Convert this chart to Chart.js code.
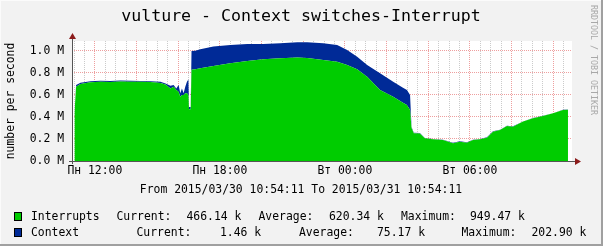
<!DOCTYPE html>
<html>
<head>
<meta charset="utf-8">
<script src="https://cdn.jsdelivr.net/npm/chart.js@4/dist/chart.umd.min.js"></script>
<style>
  html, body { margin: 0; padding: 0; background: #f2f2f2; }
  canvas { display: block; }
</style>
</head>
<body>
<canvas id="chart" width="603" height="246"></canvas>
<script>
// time axis in hours since Monday 00:00 (window 10:54:11 .. next day 10:54:11)
const windowStart = 10 + 54 / 60 + 11 / 3600;
const windowEnd = windowStart + 24;

const hours = [
  11.02, 11.10, 11.31, 11.79, 12.27, 12.75, 13.23, 13.71, 14.19, 14.67,
  15.15, 15.39, 15.63, 15.78, 15.91, 16.02, 16.10, 16.18, 16.26, 16.34,
  16.42, 16.49, 16.52, 16.60, 16.64, 16.82, 17.06, 17.69, 18.50, 19.32,
  20.08, 20.90, 21.72, 22.19, 22.96, 23.63, 24.11, 24.59, 25.07, 25.69,
  26.32, 26.79, 26.98, 27.13, 27.20, 27.31, 27.60, 27.84, 28.22, 28.71,
  29.19, 29.52, 29.86, 30.15, 30.49, 30.82, 31.11, 31.45, 31.78, 32.07,
  32.55, 33.03, 33.51, 33.99, 34.47, 34.71
];
// millions per second
const interrupts = [
  0.436, 0.675, 0.700, 0.715, 0.720, 0.718, 0.722, 0.720, 0.720, 0.718,
  0.710, 0.695, 0.660, 0.675, 0.645, 0.630, 0.585, 0.600, 0.600, 0.615,
  0.615, 0.600, 0.470, 0.470, 0.830, 0.835, 0.843, 0.864, 0.888, 0.909,
  0.925, 0.934, 0.940, 0.937, 0.918, 0.903, 0.873, 0.834, 0.767, 0.645,
  0.585, 0.530, 0.509, 0.464, 0.300, 0.252, 0.250, 0.206, 0.197, 0.190,
  0.161, 0.176, 0.167, 0.190, 0.197, 0.212, 0.267, 0.282, 0.318, 0.312,
  0.358, 0.388, 0.409, 0.433, 0.464, 0.466
];
const context = [
  0.004, 0.015, 0.012, 0.010, 0.010, 0.010, 0.010, 0.010, 0.008, 0.008,
  0.010, 0.010, 0.025, 0.015, 0.015, 0.060, 0.030, 0.060, 0.015, 0.060,
  0.105, 0.140, 0.020, 0.020, 0.170, 0.168, 0.172, 0.176, 0.167, 0.155,
  0.139, 0.136, 0.139, 0.142, 0.152, 0.152, 0.136, 0.114, 0.106, 0.152,
  0.136, 0.135, 0.136, 0.136, 0.010, 0.004, 0.005, 0.004, 0.003, 0.003,
  0.004, 0.004, 0.003, 0.003, 0.003, 0.003, 0.003, 0.003, 0.003, 0.003,
  0.002, 0.002, 0.002, 0.002, 0.002, 0.0015
];

const tickHours = [12, 18, 24, 30];
const tickLabels = ['Пн 12:00', 'Пн 18:00', 'Вт 00:00', 'Вт 06:00'];

const seriesNames = ['Interrupts', 'Context'];
const seriesColors = ['#00cc00', '#002a97'];
const currentVals = ['466.14 k', '1.46 k'];
const averageVals = ['620.34 k', '75.17 k'];
const maximumVals = ['949.47 k', '202.90 k'];

const titleText = 'vulture - Context switches-Interrupt';
const rangeText = 'From 2015/03/30 10:54:11 To 2015/03/31 10:54:11';
const mono = "'DejaVu Sans Mono', 'Liberation Mono', monospace";

const gridGray = 'rgba(140,140,140,0.45)';
const gridRed = 'rgba(224,80,80,0.55)';

// frame, plot background, axes with arrows, title and legend
const rrdDecor = {
  id: 'rrdDecor',
  beforeDraw(chart) {
    const { ctx, chartArea: a, width, height } = chart;
    ctx.save();
    ctx.fillStyle = '#f2f2f2';
    ctx.fillRect(0, 0, width, height);
    ctx.fillStyle = '#ffffff';
    ctx.fillRect(a.left, a.top, a.right - a.left, a.bottom - a.top);
    ctx.restore();
  },
  afterDatasetsDraw(chart) {
    const { ctx, chartArea: a } = chart;
    ctx.save();
    // axes
    ctx.strokeStyle = '#555';
    ctx.lineWidth = 1;
    ctx.beginPath();
    ctx.moveTo(a.left - 3, a.bottom + 0.5);
    ctx.lineTo(a.right + 4, a.bottom + 0.5);
    ctx.moveTo(a.left + 0.5, a.bottom + 3);
    ctx.lineTo(a.left + 0.5, a.top - 3);
    ctx.stroke();
    // arrows
    ctx.fillStyle = '#8c1c1c';
    ctx.beginPath();
    ctx.moveTo(a.right + 9, a.bottom + 0.5);
    ctx.lineTo(a.right + 3, a.bottom - 3);
    ctx.lineTo(a.right + 3, a.bottom + 4);
    ctx.closePath();
    ctx.fill();
    ctx.beginPath();
    ctx.moveTo(a.left + 0.5, a.top - 8);
    ctx.lineTo(a.left - 3, a.top - 2);
    ctx.lineTo(a.left + 4, a.top - 2);
    ctx.closePath();
    ctx.fill();
    ctx.restore();
  },
  afterDraw(chart) {
    const { ctx, width, height } = chart;
    ctx.save();
    // 3d frame
    ctx.fillStyle = '#fbfbfb';
    ctx.fillRect(0, 0, width, 1);
    ctx.fillRect(0, 0, 1, height);
    ctx.fillStyle = '#a0a0a0';
    ctx.fillRect(width - 2, 0, 2, height);
    ctx.fillRect(0, height - 2, width, 2);

    ctx.fillStyle = '#000';
    ctx.textBaseline = 'middle';
    ctx.textAlign = 'center';
    ctx.font = '16.6px ' + mono;
    ctx.fillText(titleText, 301, 17);

    ctx.font = '11.4px ' + mono;
    ctx.fillText(rangeText, 301, 190);

    // watermark
    ctx.save();
    ctx.translate(593, 5);
    ctx.rotate(Math.PI / 2);
    ctx.textAlign = 'left';
    ctx.fillStyle = '#a8a8a8';
    ctx.font = '8.3px ' + mono;
    ctx.fillText('RRDTOOL / TOBI OETIKER', 0, 0);
    ctx.restore();

    // legend
    ctx.textAlign = 'left';
    ctx.font = '11.4px ' + mono;
    const rows = [217, 233];
    const cols = [
      [31, 116.5, 186.5, 258.5, 329, 401, 470],
      [31, 136.5, 220, 299, 377, 461.5, 531.5]
    ];
    for (let i = 0; i < 2; i++) {
      const y = rows[i];
      ctx.fillStyle = seriesColors[i];
      ctx.fillRect(14, y - 5, 8, 9);
      ctx.strokeStyle = '#000';
      ctx.lineWidth = 1;
      ctx.strokeRect(14.5, y - 4.5, 7, 8);
      ctx.fillStyle = '#000';
      const parts = [seriesNames[i], 'Current:', currentVals[i], 'Average:', averageVals[i], 'Maximum:', maximumVals[i]];
      parts.forEach((t, j) => ctx.fillText(t, cols[i][j], y));
    }
    ctx.restore();
  }
};

new Chart(document.getElementById('chart'), {
  type: 'line',
  data: {
    datasets: [
      {
        label: seriesNames[0],
        data: hours.map((h, i) => ({ x: h, y: interrupts[i] })),
        backgroundColor: seriesColors[0],
        borderWidth: 0,
        pointRadius: 0,
        fill: 'origin',
        tension: 0
      },
      {
        label: seriesNames[1],
        data: hours.map((h, i) => ({ x: h, y: context[i] })),
        backgroundColor: seriesColors[1],
        borderWidth: 0,
        pointRadius: 0,
        fill: '-1',
        tension: 0
      }
    ]
  },
  options: {
    responsive: false,
    animation: false,
    layout: { padding: { left: 0, right: 31, top: 41, bottom: 0 } },
    plugins: { legend: { display: false }, tooltip: { enabled: false } },
    scales: {
      x: {
        type: 'linear',
        min: windowStart,
        max: windowEnd,
        afterBuildTicks(scale) {
          const t = [];
          for (let v = 11; v < windowEnd; v += 0.5) t.push({ value: v });
          scale.ticks = t;
        },
        afterFit(scale) { scale.height = 85; },
        grid: {
          drawTicks: false,
          color: c => (c.tick && c.tick.value % 2 === 0 ? gridRed : gridGray)
        },
        border: { display: false, dash: [1, 1] },
        ticks: {
          autoSkip: false,
          maxRotation: 0,
          padding: 3,
          color: '#000',
          font: { family: mono, size: 11.4 },
          callback: v => {
            const k = tickHours.indexOf(v);
            return k >= 0 ? tickLabels[k] : '';
          }
        }
      },
      y: {
        stacked: true,
        min: 0,
        max: 1.0909,
        afterBuildTicks(scale) {
          const t = [];
          for (let i = 0; i <= 10; i++) t.push({ value: i / 10 });
          scale.ticks = t;
        },
        afterFit(scale) { scale.width = 72; },
        grid: {
          drawTicks: false,
          color: c => (c.tick && Math.round(c.tick.value * 10) % 2 === 0 ? gridRed : gridGray)
        },
        border: { display: false, dash: [1, 1] },
        title: {
          display: true,
          text: 'number per second',
          color: '#000',
          padding: { top: 4, bottom: 0 },
          font: { family: mono, size: 11.4 }
        },
        ticks: {
          padding: 8,
          color: '#000',
          font: { family: mono, size: 11.4 },
          callback: v => (Math.round(v * 10) % 2 === 0 ? v.toFixed(1) + ' M' : '')
        }
      }
    }
  },
  plugins: [rrdDecor]
});
</script>
</body>
</html>
